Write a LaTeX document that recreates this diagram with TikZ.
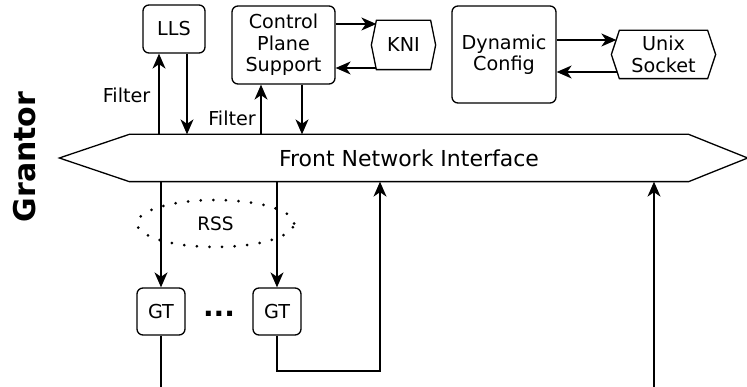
\documentclass[tikz,border=0pt]{standalone}
\usepackage{fontspec}
\setmainfont{DejaVu Sans}
\usetikzlibrary{arrows.meta,calc,shapes.geometric}
\begin{document}
\begin{tikzpicture}[x=1pt,y=-1pt,line width=1.3pt,
  txt/.style={font=\fontsize{19.2}{21.5}\selectfont},
  box/.style={txt,draw,rounded corners=6pt,align=center,inner sep=0pt},
  port/.style={txt,align=center,inner sep=0pt},
  lbl/.style={txt,inner sep=0pt},
  arr/.style={-{Stealth[length=15pt,width=13pt,inset=4.5pt]}},
  rssring/.style={draw,ellipse,inner sep=0pt,line width=3pt,line cap=round,
    dash pattern=on 0pt off 12.6pt,font=\fontsize{18.5}{21}\selectfont}]
\useasboundingbox (0,0) rectangle (747,387);

% side title
\node[rotate=90,font=\bfseries\fontsize{30}{32}\selectfont] (title) at (25,157) {Grantor};

% upper blocks
\node[box,minimum width=62pt,minimum height=48pt] (lls) at (174,29) {LLS};
\node[box,minimum width=103pt,minimum height=78pt] (cps) at (283.5,45) {Control\\Plane\\Support};
\node[port,minimum width=53pt,minimum height=48pt] (kni) at (403.5,45) {KNI};
\draw (kni.north west) -- (kni.north east) -- ($(kni.east)+(5,0)$) -- (kni.south east)
  -- (kni.south west) -- ($(kni.west)+(-5,0)$) -- cycle;
\node[box,minimum width=104pt,minimum height=97pt] (dyn) at (504,54.5) {Dynamic\\Config};
\node[port,minimum width=87pt,minimum height=47pt] (unix) at (663.5,54.5) {Unix\\Socket};
\draw (unix.north west) -- (unix.north east) -- ($(unix.east)+(8,0)$) -- (unix.south east)
  -- (unix.south west) -- ($(unix.west)+(-8,0)$) -- cycle;

% front network interface
\node[port,minimum width=558pt,minimum height=46pt,font=\fontsize{22}{26}\selectfont] (fni) at (409,158) {Front Network Interface};
\draw (fni.north west) -- (fni.north east) -- ($(fni.east)+(59,0)$) -- (fni.south east)
  -- (fni.south west) -- ($(fni.west)+(-70,0)$) -- cycle;

% side channels
\draw[arr] ([yshift=21pt]cps.east) -- ([yshift=21pt]kni.west);
\draw[arr] ([yshift=-23pt]kni.west) -- ([yshift=-23pt]cps.east);
\draw[arr] ([yshift=14.5pt]dyn.east) -- ([yshift=14.5pt,xshift=-3pt]unix.west);
\draw[arr] ([yshift=-17.5pt,xshift=-2pt]unix.west) -- ([yshift=-17.5pt]dyn.east);

% filtered paths to LLS and control plane
\coordinate (lu) at ([xshift=-15pt]lls.south);
\coordinate (ld) at ([xshift=13pt]lls.south);
\coordinate (cu) at ([xshift=-22.5pt]cps.south);
\coordinate (cd) at ([xshift=18.5pt]cps.south);
\draw[arr] (lu |- fni.north) -- node[lbl,pos=0.48,left=8pt] (f1) {Filter} (lu);
\draw[arr] (ld) -- (ld |- fni.north);
\draw[arr] (cu |- fni.north) -- node[lbl,pos=0.33,left=4.5pt] (f2) {Filter} (cu);
\draw[arr] (cd) -- (cd |- fni.north);

% GT blocks
\node[box,minimum width=48pt,minimum height=47pt] (gt1) at (161,311.5) {GT};
\node[box,minimum width=48pt,minimum height=47pt] (gt2) at (277,311.5) {GT};
\node[font=\bfseries\fontsize{28}{30}\selectfont,inner sep=0pt] (dots) at (219,314) {...};
\node[rssring,minimum width=157pt,minimum height=47pt] (rss) at (215.5,223.5) {RSS};

\draw[arr] (gt1 |- fni.south) -- (gt1.north);
\draw[arr] (gt2 |- fni.south) -- (gt2.north);
\coordinate (turn) at (380,371);
\draw[arr] (gt2.south) |- (turn) -- (turn |- fni.south);
\draw (gt1.south) -- ++(0,53);
\coordinate (ext) at (654,388);
\draw[arr] (ext) -- (ext |- fni.south);
\end{tikzpicture}
\end{document}
